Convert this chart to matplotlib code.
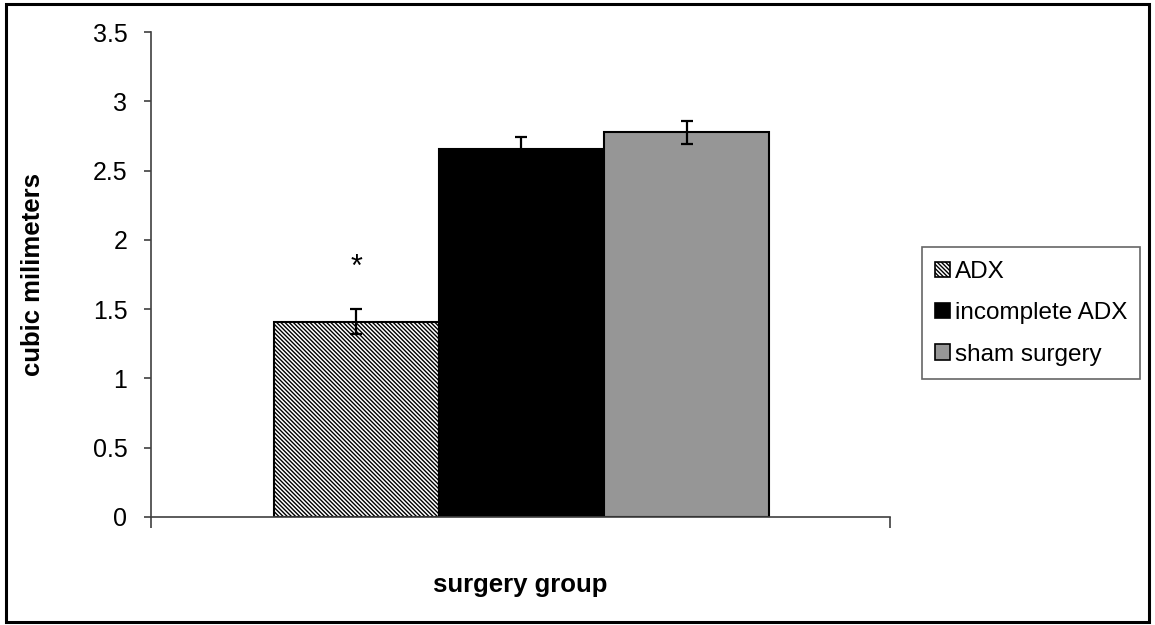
import matplotlib
matplotlib.use('Agg')
from matplotlib import pyplot as plt
from matplotlib.patches import Rectangle, Patch

groups = ['ADX', 'incomplete ADX', 'sham surgery']
means = [1.41, 2.655, 2.775]
errors = [0.09, 0.09, 0.085]
colors = ['white', 'black', '#969696']
hatches = ['\\\\\\\\\\\\\\\\', None, None]
y_ticks = [0, 0.5, 1, 1.5, 2, 2.5, 3, 3.5]
y_tick_labels = ['0', '0.5', '1', '1.5', '2', '2.5', '3', '3.5']
star_y = 1.8

plt.rcParams['font.family'] = ['Liberation Sans', 'DejaVu Sans']
plt.rcParams['hatch.linewidth'] = 1.0

fig = plt.figure(figsize=(11.55, 6.25), dpi=100)
ax = fig.add_axes([0.1307, 0.1728, 0.6399, 0.776])

x = range(len(groups))
bars = ax.bar(x, means, width=1.0, color=colors, edgecolor='black', linewidth=1.5,
              yerr=errors, capsize=4.5, error_kw=dict(ecolor='black', elinewidth=1.6, capthick=1.6))
for b, h in zip(bars, hatches):
    if h:
        b.set_hatch(h)

ax.text(0, star_y, '*', ha='center', va='center', fontsize=22)

ax.set_xlim(-1.245, 3.233)
ax.set_ylim(0, 3.5)
ax.set_yticks(y_ticks)
ax.set_yticklabels(y_tick_labels)
ax.set_xticks([-1.245, 3.233])
ax.set_xticklabels(['', ''])
ax.tick_params(axis='y', direction='out', length=5, width=1.2, color='#404040', labelsize=18, pad=12)
ax.tick_params(axis='x', direction='out', length=8, width=1.2, color='#404040')
for s in ['top', 'right']:
    ax.spines[s].set_visible(False)
for s in ['left', 'bottom']:
    ax.spines[s].set_color('#404040')
    ax.spines[s].set_linewidth(1.2)

ax.set_ylabel('cubic milimeters', fontsize=18.5, fontweight='bold', labelpad=34)
ax.set_xlabel('surgery group', fontsize=18.5, fontweight='bold', labelpad=29)

handles = [Patch(facecolor=c, edgecolor='black', hatch=h, linewidth=1.2) for c, h in zip(colors, hatches)]
leg = ax.legend(handles, groups, loc='center left', bbox_to_anchor=(1.043, 0.42),
                borderaxespad=0, frameon=True, fancybox=False, fontsize=17.5,
                handlelength=0.6, handleheight=0.6, handletextpad=0.2,
                labelspacing=0.8, borderpad=0.55)
leg.get_frame().set_edgecolor('#404040')
leg.get_frame().set_linewidth(1.2)

# outer frame around the whole figure
fig.patches.append(Rectangle((0.005, 0.005), 0.99, 0.989, transform=fig.transFigure,
                             fill=False, edgecolor='black', linewidth=2.2))

fig.savefig('out.png', dpi=100)
